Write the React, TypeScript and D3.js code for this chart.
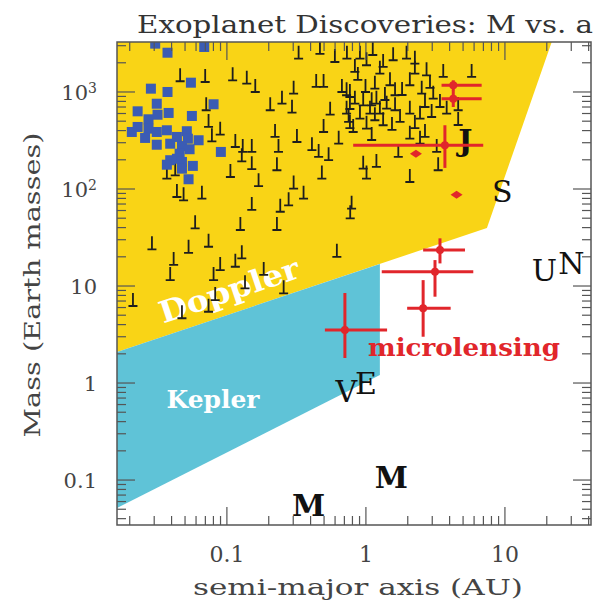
import React, { useEffect, useRef } from 'react';
import * as d3 from 'd3';

// radial-velocity planets: [semi-major axis (AU), minimum mass (Earth masses)]
const rvPlanets: [number, number][] = [
  [0.0461, 1290], [0.0698, 1268], [0.110, 1320], [0.139, 1218], [0.160, 1000], [0.071, 648],
  [0.205, 648], [0.249, 757], [0.294, 612], [0.302, 960], [0.439, 1127], [0.496, 1127],
  [0.553, 583], [0.672, 1000], [0.751, 491], [0.0738, 436], [0.0895, 363], [0.078, 310],
  [0.115, 271], [0.130, 241], [0.151, 241], [0.128, 193], [0.151, 160], [0.106, 133],
  [0.169, 107], [0.222, 344], [0.235, 241], [0.229, 156], [0.319, 305], [0.409, 251],
  [0.457, 214], [0.539, 198], [0.496, 387], [0.637, 293], [0.482, 128], [0.302, 101],
  [0.356, 79.5], [0.278, 67.9], [0.0661, 79.5], [0.0488, 76.5], [0.0437, 82.7], [0.037, 128],
  [0.0425, 138], [0.151, 60.8], [0.328, 2205], [0.467, 2465], [0.598, 2038], [0.73, 2205],
  [0.767, 888], [0.767, 668],
  [0.833, 1608], [1.01, 1885], [1.26, 1545], [1.57, 2123], [1.96, 2205], [2.25, 1545],
  [2.73, 1486], [3.6, 1428], [5.76, 1428], [0.726, 925], [0.833, 757], [0.993, 1000],
  [1.16, 1082], [1.19, 757], [1.49, 1173], [1.62, 925], [2.07, 1173], [2.52, 960],
  [3.05, 853], [3.41, 700], [3.81, 597], [4.61, 648], [0.726, 597], [0.906, 531],
  [1.07, 597], [1.26, 597], [1.33, 454], [1.01, 419], [0.81, 387], [1.62, 648],
  [2.07, 597], [1.76, 491], [2.07, 330], [2.66, 344], [1.71, 214], [1.19, 169],
  [0.956, 162], [1.01, 128], [2.07, 118], [3.31, 156], [3.23, 241], [2.45, 293],
  [0.789, 62.7], [1.33, 1811], [2.25, 1959], [0.906, 2205], [1.12, 2406], [1.1, 729],
  [1.16, 511], [1.41, 673], [0.956, 729], [2.45, 531], [2.97, 552], [2.66, 700],
  [0.875, 1330], [1.37, 827], [1.82, 931], [2.89, 1100], [0.767, 425], [1.54, 406],
  [1.1, 320], [2.25, 425], [4.61, 457],
  [0.242, 58.3], [0.771, 49.9], [0.0591, 39.3], [0.125, 37.8], [0.229, 37.8], [0.0289, 23.9],
  [0.053, 22], [0.0738, 25.4], [0.128, 19.3], [0.115, 15.8], [0.0895, 14.6], [0.0414, 16.5],
  [0.0391, 11.5], [0.0802, 11.5], [0.184, 13], [0.256, 8.41], [0.618, 20], [0.135, 9.47],
  [0.0824, 7.17], [0.0211, 6.22], [0.0475, 4.65], [0.0738, 5.43],
];

// transiting planets: [a (AU), mass (Earth masses)]
const transitPlanets: [number, number][] = [
  [0.0305, 3150], [0.0687, 2910], [0.0374, 2540], [0.0551, 1247], [0.0284, 1082], [0.0374, 1000],
  [0.0802, 747], [0.0313, 757], [0.0228, 632], [0.0381, 608], [0.0317, 583], [0.056, 566],
  [0.0273, 523], [0.0228, 436], [0.0207, 387], [0.0273, 419], [0.0313, 387], [0.037, 403],
  [0.0258, 336], [0.0515, 394], [0.0437, 344], [0.0524, 330], [0.0626, 318], [0.0313, 286],
  [0.0391, 293], [0.0475, 277], [0.0539, 257], [0.0457, 231], [0.0905, 241], [0.0391, 198],
  [0.0437, 205], [0.0475, 190], [0.037, 178], [0.0569, 173], [0.0475, 162], [0.053, 126],
];

// microlensing planets with error ranges
const lensA = [4.25, 4.25, 3.7, 3.41, 3.14, 2.58, 0.706];
const lensALo = [3.5, 3.5, 0.81, 2.58, 1.3, 1.98, 0.507];
const lensAHi = [6.8, 6.8, 6.98, 5.16, 5.92, 4.07, 1.42];
const lensM = [1173, 853, 282, 23.5, 14.0, 5.89, 3.52];
const lensMLo = [1040, 700, 165, 17.1, 7.76, 3.0, 1.81];
const lensMHi = [1320, 1050, 454, 31, 18.5, 11.5, 8.47];
// microlensing planets without error bars
const lensSingles: [number, number][] = [[2.29, 231], [4.49, 87.4]];

// solar system planets
const solarNames = ['M', 'V', 'E', 'M', 'J', 'S', 'U', 'N'];
const solarA = [0.387, 0.723, 1.0, 1.524, 5.2, 9.58, 19.2, 30.1];
const solarM = [0.055, 0.815, 1.0, 0.107, 318, 95.2, 14.5, 17.1];

// sensitivity regions
const dopplerRegion: [number, number][] = [[0.0162, 3275], [0.0162, 2.09], [7.42, 39.6], [21.7, 3275]];
const keplerRegion: [number, number][] = [[0.0162, 2.09], [1.26, 16.9], [1.26, 1.21], [0.0162, 0.0515]];

const xTickValues = [0.1, 1, 10];
const xTickLabels = ['0.1', '1', '10'];
const yTickValues = [0.1, 1, 10, 100, 1000];
const yTickLabels = ['0.1', '1', '10', '10^2', '10^3'];

const xDomain = [0.0162, 41.6];
const yDomain = [0.0344, 3275];

const App = () => {
  const svgRef = useRef<SVGSVGElement>(null);

  useEffect(() => {
    const svg = d3.select(svgRef.current);
    svg.selectAll('*').remove();

    const left = 117, right = 591, top = 42, bottom = 525;
    const x = d3.scaleLog().domain(xDomain).range([left, right]);
    const y = d3.scaleLog().domain(yDomain).range([bottom, top]);

    svg.append('rect').attr('width', 602).attr('height', 605).attr('fill', 'white');

    svg.append('defs').append('clipPath').attr('id', 'plotclip')
      .append('rect').attr('x', left).attr('y', top).attr('width', right - left).attr('height', bottom - top);

    const plot = svg.append('g').attr('clip-path', 'url(#plotclip)');

    const area = d3.line<[number, number]>().x(d => x(d[0])).y(d => y(d[1]));
    plot.append('path').attr('d', area(dopplerRegion) + 'Z').attr('fill', '#f9d416');
    plot.append('path').attr('d', area(keplerRegion) + 'Z').attr('fill', '#5fc3d7');

    // region labels
    plot.append('text')
      .attr('transform', 'translate(229,290) rotate(-18.5)')
      .attr('text-anchor', 'middle')
      .attr('dy', '0.36em')
      .attr('textLength', 146)
      .attr('lengthAdjust', 'spacingAndGlyphs')
      .style('font-family', 'DejaVu Serif')
      .style('font-weight', 'bold')
      .style('font-size', '30px')
      .style('fill', 'white')
      .text('Doppler');

    plot.append('text')
      .attr('x', 213).attr('y', 408)
      .attr('text-anchor', 'middle')
      .attr('textLength', 93)
      .attr('lengthAdjust', 'spacingAndGlyphs')
      .style('font-family', 'DejaVu Serif')
      .style('font-weight', 'bold')
      .style('font-size', '24px')
      .style('fill', 'white')
      .text('Kepler');

    // radial velocity planets drawn as inverted T (lower limits)
    const rv = plot.append('g').attr('stroke', '#1e1e1e').attr('stroke-width', 1.8).attr('fill', 'none');
    rvPlanets.forEach(([a, m]) => {
      const px = x(a), py = y(m);
      rv.append('path').attr('d', `M${px - 4.5},${py}H${px + 4.5}M${px},${py}V${py - 13}`);
    });

    // transits
    plot.append('g').selectAll('rect')
      .data(transitPlanets)
      .enter().append('rect')
      .attr('x', d => x(d[0]) - 5)
      .attr('y', d => y(d[1]) - 5)
      .attr('width', 10).attr('height', 10)
      .attr('fill', '#3b5cb4');

    // solar system letters
    const solar = plot.append('g')
      .style('font-family', 'DejaVu Serif')
      .style('font-size', '30px')
      .style('fill', '#111');
    solarNames.forEach((name, i) => {
      solar.append('text')
        .attr('x', x(solarA[i]))
        .attr('y', y(solarM[i]))
        .attr('dy', '0.36em')
        .attr('text-anchor', 'middle')
        .style('font-weight', name === 'M' || name === 'J' ? 'bold' : 'normal')
        .text(name);
    });

    // microlensing
    const red = '#e1262b';
    const lens = plot.append('g').attr('stroke', red).attr('stroke-width', 3).attr('fill', red);
    lensA.forEach((a, i) => {
      lens.append('line').attr('x1', x(lensALo[i])).attr('x2', x(lensAHi[i])).attr('y1', y(lensM[i])).attr('y2', y(lensM[i]));
      lens.append('line').attr('x1', x(a)).attr('x2', x(a)).attr('y1', y(lensMLo[i])).attr('y2', y(lensMHi[i]));
      lens.append('circle').attr('cx', x(a)).attr('cy', y(lensM[i])).attr('r', 4).attr('stroke', 'none');
    });
    lensSingles.forEach(([a, m]) => {
      const px = x(a), py = y(m);
      lens.append('path').attr('d', `M${px - 6},${py}L${px},${py - 4}L${px + 6},${py}L${px},${py + 4}Z`).attr('stroke', 'none');
    });

    svg.append('text')
      .attr('x', 368).attr('y', 356)
      .attr('textLength', 192)
      .attr('lengthAdjust', 'spacingAndGlyphs')
      .style('font-family', 'DejaVu Serif')
      .style('font-weight', 'bold')
      .style('font-size', '25px')
      .style('fill', red)
      .text('microlensing');

    // axes: ticks on all four sides
    const axes = svg.append('g').attr('stroke', '#555').attr('stroke-width', 1.2);
    const isMajor = (v: number) => Math.abs(Math.log10(v) - Math.round(Math.log10(v))) < 1e-6;
    x.ticks().forEach(v => {
      const len = isMajor(v) ? 18 : 9;
      const px = x(v);
      axes.append('line').attr('x1', px).attr('x2', px).attr('y1', bottom).attr('y2', bottom - len);
      axes.append('line').attr('x1', px).attr('x2', px).attr('y1', top).attr('y2', top + len);
    });
    y.ticks().forEach(v => {
      const len = isMajor(v) ? 18 : 9;
      const py = y(v);
      axes.append('line').attr('x1', left).attr('x2', left + len).attr('y1', py).attr('y2', py);
      axes.append('line').attr('x1', right).attr('x2', right - len).attr('y1', py).attr('y2', py);
    });
    svg.append('rect')
      .attr('x', left).attr('y', top).attr('width', right - left).attr('height', bottom - top)
      .attr('fill', 'none').attr('stroke', '#555').attr('stroke-width', 1.5);

    const labels = svg.append('g')
      .style('font-family', 'DejaVu Serif')
      .style('fill', '#444');

    xTickValues.forEach((v, i) => {
      labels.append('text')
        .attr('x', x(v)).attr('y', 562)
        .attr('text-anchor', 'middle')
        .style('font-size', '22px')
        .text(xTickLabels[i]);
    });

    yTickValues.forEach((v, i) => {
      const t = labels.append('text')
        .attr('x', 97).attr('y', y(v))
        .attr('dy', '0.36em')
        .attr('text-anchor', 'end')
        .style('font-size', '21px');
      const parts = yTickLabels[i].split('^');
      t.append('tspan').text(parts[0]);
      if (parts[1]) {
        t.append('tspan').attr('dy', '-0.5em').style('font-size', '14px').text(parts[1]);
      }
    });

    labels.append('text')
      .attr('x', 193).attr('y', 595)
      .attr('textLength', 330)
      .attr('lengthAdjust', 'spacingAndGlyphs')
      .style('font-size', '23px')
      .text('semi-major axis (AU)');

    labels.append('text')
      .attr('transform', 'translate(40,285) rotate(-90)')
      .attr('text-anchor', 'middle')
      .attr('textLength', 305)
      .attr('lengthAdjust', 'spacingAndGlyphs')
      .style('font-size', '23px')
      .text('Mass (Earth masses)');

    labels.append('text')
      .attr('x', 137).attr('y', 33)
      .attr('textLength', 456)
      .attr('lengthAdjust', 'spacingAndGlyphs')
      .style('font-size', '25px')
      .style('fill', '#333')
      .text('Exoplanet Discoveries: M vs. a');
  }, []);

  return (
    <div style={{ position: 'absolute', left: 0, top: 0 }}>
      <svg ref={svgRef} width={602} height={605} style={{ display: 'block' }}></svg>
    </div>
  );
};

export default App;
